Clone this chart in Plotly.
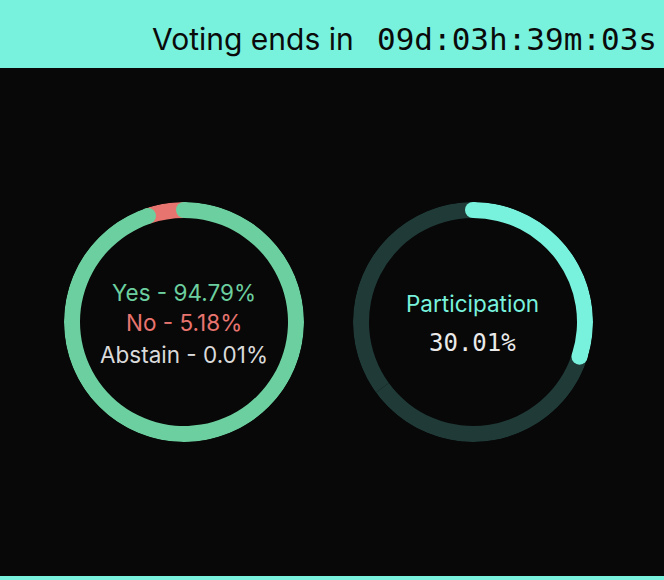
import plotly.graph_objects as go

W, H = 664, 580

# ---- data ----
vote_labels = ["Yes", "No", "Abstain"]
vote_values = [94.79, 5.18, 0.01]
vote_colors = ["#6CCF9F", "#E8746F", "#DADADA"]
participation_value = 30.01
participation_labels = ["Participation", "Remaining"]
countdown_prefix = "Voting ends in"
countdown_text = "09d:03h:39m:03s"

TEAL = "#78F2DD"
BG = "#080808"
DARK_RING = "#1F3A37"

R_OUT = 120
THICK = 16
R_IN = R_OUT - THICK
R_MID = R_OUT - THICK / 2

def pdom(cx, cy, r):
    return dict(x=[(cx - r) / W, (cx + r) / W], y=[(H - (cy + r)) / H, (H - (cy - r)) / H])

fig = go.Figure()

# ---- left donut (votes) ----
starts = []
acc = 0
for v in vote_values:
    starts.append(acc)
    acc += v
deg = [v * 3.6 for v in vote_values]
st_deg = [s * 3.6 for s in starts]

for i in [2, 1, 0]:
    fig.add_trace(go.Barpolar(
        r=[THICK], base=[R_IN], theta=[st_deg[i] + deg[i] / 2], width=[deg[i]],
        marker=dict(color=vote_colors[i], line=dict(width=0)),
        subplot="polar", showlegend=False, hoverinfo="skip", name=vote_labels[i]))
fig.add_trace(go.Scatterpolar(
    r=[R_MID, R_MID], theta=[st_deg[0], st_deg[0] + deg[0]], mode="markers",
    marker=dict(size=THICK, color=vote_colors[0], line=dict(width=0)),
    subplot="polar", showlegend=False, hoverinfo="skip"))

# ---- right donut (participation) ----
p_deg = participation_value * 3.6
rest = 100 - participation_value
rest_deg = rest * 3.6
fig.add_trace(go.Barpolar(
    r=[THICK, THICK], base=[R_IN, R_IN],
    theta=[p_deg + rest_deg / 4, p_deg + 3 * rest_deg / 4], width=[rest_deg / 2, rest_deg / 2],
    marker=dict(color=DARK_RING, line=dict(width=0)),
    subplot="polar2", showlegend=False, hoverinfo="skip", name=participation_labels[1]))
fig.add_trace(go.Barpolar(
    r=[THICK], base=[R_IN], theta=[p_deg / 2], width=[p_deg],
    marker=dict(color=TEAL, line=dict(width=0)),
    subplot="polar2", showlegend=False, hoverinfo="skip", name=participation_labels[0]))
fig.add_trace(go.Scatterpolar(
    r=[R_MID, R_MID], theta=[0, p_deg], mode="markers",
    marker=dict(size=THICK, color=TEAL, line=dict(width=0)),
    subplot="polar2", showlegend=False, hoverinfo="skip"))

def polar_layout(cx, cy):
    return dict(
        domain=pdom(cx, cy, R_OUT),
        bgcolor="rgba(0,0,0,0)",
        radialaxis=dict(range=[0, R_OUT], visible=False),
        angularaxis=dict(rotation=90, direction="clockwise", showgrid=False,
                         showticklabels=False, showline=False, ticks=""),
        barmode="overlay",
    )

fig.update_layout(
    width=W, height=H,
    margin=dict(l=0, r=0, t=0, b=0),
    paper_bgcolor=BG, plot_bgcolor=BG,
    polar=polar_layout(184, 322),
    polar2=polar_layout(473, 322),
    shapes=[
        dict(type="rect", xref="paper", yref="paper", x0=0, x1=1, y0=1 - 68 / H, y1=1,
             fillcolor=TEAL, line=dict(width=0), layer="below"),
        dict(type="rect", xref="paper", yref="paper", x0=0, x1=1, y0=0, y1=4 / H,
             fillcolor=TEAL, line=dict(width=0), layer="below"),
    ],
)

def ann(text, x, y, size, color, family, xanchor="center"):
    fig.add_annotation(text=text, x=x / W, y=1 - y / H, xref="paper", yref="paper",
                       xanchor=xanchor, yanchor="middle", showarrow=False,
                       font=dict(size=size, color=color, family=family))

SANS = "Inter, Noto Sans, sans-serif"
MONO = "DejaVu Sans Mono, monospace"

ann(countdown_prefix, 356, 39, 30, "#0A0A0A", SANS, xanchor="right")
ann(countdown_text, 375, 39, 31, "#0A0A0A", MONO, xanchor="left")

vote_texts = [f"{l} - {v:.2f}%" for l, v in zip(vote_labels, vote_values)]
for t, c, yy in zip(vote_texts, vote_colors, [292, 323, 355]):
    ann(t, 184, yy, 22.5, c, SANS)

ann(participation_labels[0], 472, 303, 22.5, TEAL, SANS)
ann(f"{participation_value:.2f}%", 472, 343, 24, "#EAEAEA", MONO)

fig.write_html("out.html", config={"displayModeBar": False},
               post_script="document.body.style.margin='0';document.body.style.overflow='hidden';")
